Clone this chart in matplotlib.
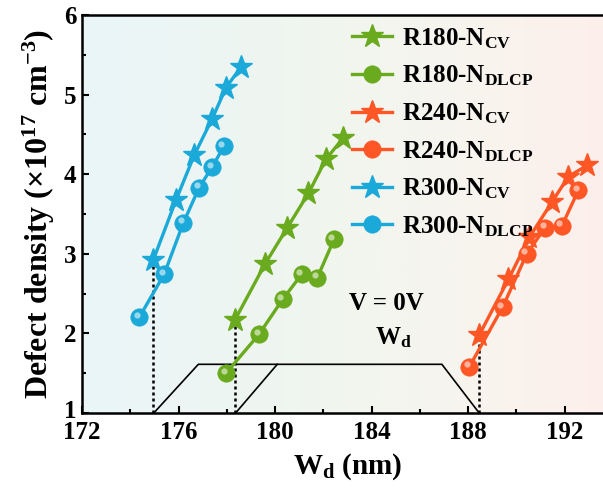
import numpy as np
import matplotlib
matplotlib.use("Agg")
import matplotlib.pyplot as plt
from matplotlib.transforms import offset_copy, ScaledTranslation
from matplotlib.colors import LinearSegmentedColormap

plt.rcParams["font.family"] = ["Liberation Serif", "DejaVu Serif"]
plt.rcParams["font.weight"] = "bold"
plt.rcParams["mathtext.fontset"] = "custom"
plt.rcParams["mathtext.rm"] = "Liberation Serif:bold"
plt.rcParams["mathtext.it"] = "Liberation Serif:bold"
plt.rcParams["mathtext.bf"] = "Liberation Serif:bold"

# depletion width (nm) and defect density (1e17 cm^-3)
r180_cv_x = [178.34, 179.58, 180.51, 181.38, 182.11, 182.83]
r180_cv_y = [2.17, 2.87, 3.33, 3.76, 4.19, 4.46]
r180_dl_x = [177.97, 179.34, 180.32, 181.10, 181.75, 182.44]
r180_dl_y = [1.50, 1.99, 2.43, 2.74, 2.70, 3.18]

r240_cv_x = [188.46, 189.67, 190.54, 191.47, 192.15, 192.92]
r240_cv_y = [1.98, 2.68, 3.21, 3.65, 3.97, 4.11]
r240_dl_x = [188.05, 189.43, 190.43, 191.19, 191.88, 192.57]
r240_dl_y = [1.58, 2.33, 3.00, 3.33, 3.35, 3.80]

r300_cv_x = [174.95, 175.90, 176.65, 177.38, 177.97, 178.59]
r300_cv_y = [2.92, 3.68, 4.24, 4.69, 5.09, 5.35]
r300_dl_x = [174.37, 175.40, 176.20, 176.85, 177.39, 177.88]
r300_dl_y = [2.20, 2.74, 3.39, 3.83, 4.09, 4.35]

# zero-bias depletion widths (dotted guides)
wd0_x = [174.95, 178.34, 188.46]
wd0_y = [2.92, 2.17, 1.98]

# band-edge sketch
sketch_x = [174.98, 176.82, 186.91, 188.45]
sketch_y = [1.0, 1.61, 1.61, 1.0]
sketch2_x = [178.37, 180.09]
sketch2_y = [1.0, 1.61]

green = "#6aaa1e"
orange = "#ff5626"
cyan = "#1aa9d8"

fig = plt.figure(figsize=(6.03, 4.95), dpi=100)
ax = fig.add_axes([0.136, 0.166, 0.8806, 0.8034])
ax.set_xlim(172, 194)
ax.set_ylim(1, 6)

# background gradient
bg = LinearSegmentedColormap.from_list(
    "bg", [(0.0, "#eaf5f9"), (0.45, "#f0f6ee"), (0.75, "#f8f4ee"), (1.0, "#fdefeb")])
grad = np.linspace(0, 1, 256).reshape(1, -1)
ax.imshow(grad, cmap=bg, aspect="auto", extent=[172, 194, 1, 6], zorder=0)


def sphere(x, y, color, label):
    ax.plot(x, y, "-o", color=color, lw=2.4, ms=12.5, mec=color, mew=0.5,
            label=label, zorder=3)
    hl = offset_copy(ax.transData, fig=fig, x=-1.8, y=1.8, units="points")
    ax.plot(x, y, "o", color="white", alpha=0.55, ms=4.5, mew=0,
            transform=hl, zorder=4)


def stars(x, y, color, label):
    ax.plot(x, y, "-*", color=color, lw=2.4, ms=17, mec=color, label=label,
            zorder=3)


stars(r180_cv_x, r180_cv_y, green, r"R180-N$_{\rm CV}$")
sphere(r180_dl_x, r180_dl_y, green, r"R180-N$_{\rm DLCP}$")
stars(r240_cv_x, r240_cv_y, orange, r"R240-N$_{\rm CV}$")
sphere(r240_dl_x, r240_dl_y, orange, r"R240-N$_{\rm DLCP}$")
stars(r300_cv_x, r300_cv_y, cyan, r"R300-N$_{\rm CV}$")
sphere(r300_dl_x, r300_dl_y, cyan, r"R300-N$_{\rm DLCP}$")

for x0, y0 in zip(wd0_x, wd0_y):
    ax.plot([x0, x0], [1, y0], ls=(0, (1.2, 1.2)), color="black", lw=1.8,
            zorder=2)

ax.plot(sketch_x, sketch_y, color="black", lw=1.2, zorder=2)
ax.plot(sketch2_x, sketch2_y, color="black", lw=1.2, zorder=2)

ax.text(184.6, 2.38, "V = 0V", ha="center", va="center", fontsize=18,
        fontweight="bold")
ax.text(184.9, 1.94, r"W$_{\rm d}$", ha="center", va="center", fontsize=18,
        fontweight="bold")

leg = ax.legend(loc="upper left", bbox_to_anchor=(0.48, 1.01), frameon=False,
                fontsize=18, handlelength=1.6, handletextpad=0.4,
                labelspacing=0.52, borderaxespad=0.2)

ax.set_xticks(np.arange(172, 194, 4))
ax.set_xticks(np.arange(174, 194, 4), minor=True)
ax.set_yticks(np.arange(1, 7, 1))
ax.set_yticks(np.arange(1.5, 6, 1), minor=True)
ax.tick_params(which="both", direction="in", width=1.5, labelsize=18,
               top=False, right=False)
ax.tick_params(which="major", length=5)
ax.tick_params(axis="x", which="major", pad=6)
ax.tick_params(axis="y", which="major", pad=4)
ax.tick_params(which="minor", length=3)
for s in ax.spines.values():
    s.set_linewidth(1.8)

# lift the lowest y label a little so it clears the corner x label
lbl0 = ax.get_yticklabels()[0]
lbl0.set_transform(lbl0.get_transform() +
                   ScaledTranslation(0, 3 / 72, fig.dpi_scale_trans))

ax.set_xlabel(r"W$_{\rm d}$ (nm)", fontsize=21, fontweight="bold", labelpad=5)
ax.set_ylabel(r"Defect density (×10$^{17}$ cm$^{-3}$)", fontsize=23,
              fontweight="bold", labelpad=5)

fig.savefig("out.png", dpi=100)
